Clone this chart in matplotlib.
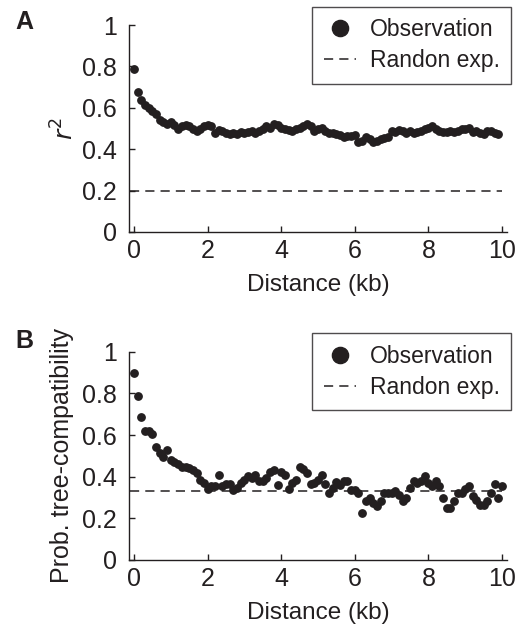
import numpy as np
import matplotlib
matplotlib.use("Agg")
import matplotlib.pyplot as plt

plt.rcParams['font.family'] = ['Liberation Sans', 'DejaVu Sans']

# distance bins (kb)
dist_a = np.round(np.arange(100) * 0.1, 1)
dist_b = np.round(np.arange(101) * 0.1, 1)

# panel A: r^2 vs distance
r2 = [0.79, 0.675, 0.64, 0.615, 0.60, 0.585, 0.57, 0.54, 0.53, 0.52,
      0.53, 0.515, 0.50, 0.51, 0.515, 0.51, 0.50, 0.49, 0.50, 0.51,
      0.515, 0.51, 0.48, 0.495, 0.49, 0.48, 0.475, 0.48, 0.475, 0.485,
      0.48, 0.485, 0.49, 0.48, 0.49, 0.50, 0.51, 0.505, 0.52, 0.515,
      0.505, 0.50, 0.495, 0.49, 0.50, 0.505, 0.51, 0.52, 0.51, 0.49,
      0.50, 0.505, 0.49, 0.48, 0.48, 0.475, 0.47, 0.46, 0.465, 0.465,
      0.47, 0.435, 0.44, 0.46, 0.45, 0.435, 0.44, 0.45, 0.455, 0.46,
      0.49, 0.485, 0.495, 0.49, 0.48, 0.49, 0.48, 0.485, 0.49, 0.50,
      0.505, 0.51, 0.50, 0.49, 0.485, 0.485, 0.49, 0.485, 0.49, 0.50,
      0.50, 0.505, 0.485, 0.49, 0.48, 0.475, 0.49, 0.49, 0.48, 0.475]
r2_random = 0.2

# panel B: probability of tree-compatibility
ptc = [0.899, 0.787, 0.685, 0.618, 0.621, 0.605, 0.541, 0.514, 0.493, 0.53,
       0.48, 0.473, 0.462, 0.449, 0.445, 0.441, 0.433, 0.417, 0.382, 0.369,
       0.342, 0.353, 0.353, 0.406, 0.353, 0.366, 0.366, 0.337, 0.345, 0.369,
       0.385, 0.404, 0.393, 0.406, 0.380, 0.377, 0.396, 0.425, 0.433, 0.361,
       0.425, 0.409, 0.340, 0.369, 0.385, 0.449, 0.438, 0.417, 0.366, 0.369,
       0.385, 0.406, 0.366, 0.321, 0.345, 0.374, 0.361, 0.380, 0.380, 0.337,
       0.334, 0.324, 0.228, 0.281, 0.297, 0.273, 0.257, 0.281, 0.321, 0.321,
       0.324, 0.329, 0.313, 0.281, 0.297, 0.345, 0.380, 0.369, 0.377, 0.401,
       0.372, 0.353, 0.377, 0.353, 0.297, 0.249, 0.252, 0.281, 0.321, 0.321,
       0.342, 0.353, 0.305, 0.289, 0.265, 0.262, 0.284, 0.321, 0.366, 0.297,
       0.353]
ptc_random = 1 / 3

fig = plt.figure(figsize=(5.21, 6.27), dpi=100)
ax_a = fig.add_axes([0.2476, 0.630, 0.7255, 0.330])
ax_b = fig.add_axes([0.2476, 0.1069, 0.7255, 0.332])

ink = '#231f20'
dot = dict(color=ink, marker='o', markersize=5.3, linestyle='none')
dash = dict(color=ink, linewidth=1.1, dashes=(6, 4))


def style(ax):
    ax.set_xlim(-0.136, 10.136)
    ax.set_ylim(0, 1)
    ax.set_xticks([0, 2, 4, 6, 8, 10])
    ax.set_yticks([0, 0.2, 0.4, 0.6, 0.8, 1])
    ax.set_yticklabels(['0', '0.2', '0.4', '0.6', '0.8', '1'])
    for s in ['top', 'right']:
        ax.spines[s].set_visible(False)
    for s in ['left', 'bottom']:
        ax.spines[s].set_linewidth(1.0)
        ax.spines[s].set_color(ink)
    ax.tick_params(direction='in', length=4, width=1, labelsize=18,
                   colors=ink)
    ax.tick_params(axis='y', pad=8.5)
    ax.tick_params(axis='x', pad=5)
    ax.set_xlabel('Distance (kb)', fontsize=17.5, color=ink, labelpad=8)
    leg = ax.legend(loc='upper right', bbox_to_anchor=(1.0106, 1.088),
                    borderaxespad=0, fontsize=16.5, frameon=True,
                    fancybox=False, handlelength=1.4, handletextpad=0.6,
                    borderpad=0.5, labelspacing=0.34, markerscale=2.2)
    leg.get_frame().set_edgecolor(ink)
    leg.get_frame().set_linewidth(1.0)
    for t in leg.get_texts():
        t.set_color(ink)


ax_a.plot(dist_a, r2, label='Observation', **dot)
ax_a.plot([-0.1, 10.0], [r2_random, r2_random], label='Randon exp.', **dash)
style(ax_a)
ax_a.set_ylabel('$r^2$', fontsize=18, color=ink, labelpad=3)

ax_b.plot(dist_b, ptc, label='Observation', **dot)
ax_b.plot([-0.1, 10.0], [ptc_random, ptc_random], label='Randon exp.', **dash)
style(ax_b)
ax_b.set_ylabel('Prob. tree-compatibility', fontsize=18, color=ink,
                labelpad=6)

fig.text(0.029, 0.9645, 'A', fontsize=18, fontweight='bold', color=ink,
         va='center')
fig.text(0.029, 0.456, 'B', fontsize=18, fontweight='bold', color=ink,
         va='center')

fig.savefig('out.png', dpi=100)
